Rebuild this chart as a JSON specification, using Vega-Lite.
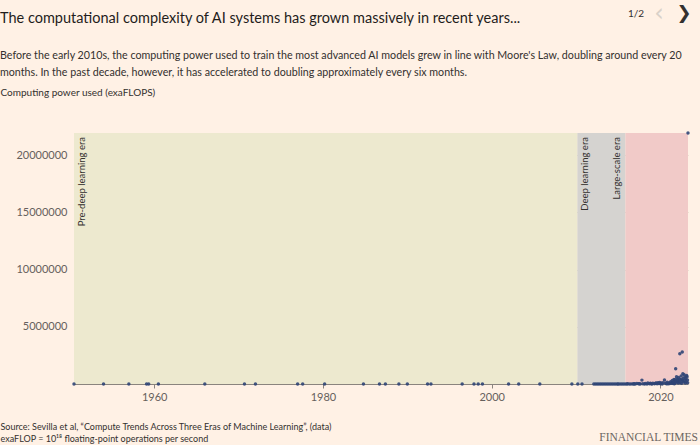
{
  "$schema": "https://vega.github.io/schema/vega-lite/v6.json",
  "autosize": {"type": "none"},
  "width": 614,
  "height": 251,
  "padding": {"left": 74, "top": 133, "right": 12, "bottom": 61},
  "background": "#fff1e5",
  "config": {
    "view": {"stroke": null},
    "font": "Lato",
    "text": {"font": "Lato"}
  },
  "title": {
    "text": "The computational complexity of AI systems has grown massively in recent years...",
    "subtitle": [
      "Before the early 2010s, the computing power used to train the most advanced AI models grew in line with Moore's Law, doubling around every 20",
      "months. In the past decade, however, it has accelerated to doubling approximately every six months."
    ],
    "anchor": "start",
    "frame": "group",
    "dx": -74,
    "dy": 77,
    "offset": 0,
    "font": "Lato",
    "fontSize": 14.5,
    "fontWeight": "normal",
    "color": "#1f1d1c",
    "subtitleFont": "Lato",
    "subtitleFontSize": 10.7,
    "subtitleColor": "#33302e",
    "subtitlePadding": 25,
    "subtitleLineHeight": 17
  },
  "datasets": {
    "eras": [
      {"era": "Pre-deep learning era", "start": 1950.5, "end": 2010.15},
      {"era": "Deep learning era", "start": 2010.15, "end": 2015.85},
      {"era": "Large-scale era", "start": 2015.85, "end": 2023.26}
    ],
    "systems": [
      {"year": 1950.5, "compute": 0}, {"year": 1954.0, "compute": 0}, {"year": 1957.0, "compute": 0},
      {"year": 1959.1, "compute": 0}, {"year": 1959.35, "compute": 0}, {"year": 1960.5, "compute": 0},
      {"year": 1966.0, "compute": 0}, {"year": 1970.7, "compute": 0}, {"year": 1972.0, "compute": 0},
      {"year": 1977.0, "compute": 0}, {"year": 1977.6, "compute": 0}, {"year": 1980.2, "compute": 0},
      {"year": 1984.8, "compute": 0}, {"year": 1986.7, "compute": 0}, {"year": 1987.4, "compute": 0},
      {"year": 1989.0, "compute": 0}, {"year": 1990.0, "compute": 0}, {"year": 1992.4, "compute": 0},
      {"year": 1992.8, "compute": 0}, {"year": 1996.5, "compute": 0}, {"year": 1997.9, "compute": 0},
      {"year": 1998.4, "compute": 0}, {"year": 1998.9, "compute": 0}, {"year": 2002.0, "compute": 0},
      {"year": 2003.2, "compute": 0}, {"year": 2005.7, "compute": 0}, {"year": 2009.5, "compute": 1},
      {"year": 2010.2, "compute": 2}, {"year": 2010.7, "compute": 5},
      {"year": 2012.1, "compute": 50}, {"year": 2012.3, "compute": 20}, {"year": 2012.5, "compute": 100},
      {"year": 2012.7, "compute": 470}, {"year": 2012.9, "compute": 30}, {"year": 2013.1, "compute": 60},
      {"year": 2013.3, "compute": 200}, {"year": 2013.5, "compute": 10}, {"year": 2013.7, "compute": 150},
      {"year": 2013.9, "compute": 40}, {"year": 2014.1, "compute": 300}, {"year": 2014.3, "compute": 80},
      {"year": 2014.5, "compute": 500}, {"year": 2014.7, "compute": 1200}, {"year": 2014.9, "compute": 250},
      {"year": 2015.0, "compute": 700}, {"year": 2015.2, "compute": 90}, {"year": 2015.4, "compute": 2000},
      {"year": 2015.6, "compute": 400}, {"year": 2015.8, "compute": 1500}, {"year": 2016.0, "compute": 3000},
      {"year": 2016.1, "compute": 19000}, {"year": 2016.3, "compute": 800}, {"year": 2016.5, "compute": 5000},
      {"year": 2016.7, "compute": 12000}, {"year": 2016.8, "compute": 2500}, {"year": 2016.9, "compute": 30000},
      {"year": 2017.0, "compute": 7000}, {"year": 2017.2, "compute": 40000}, {"year": 2017.4, "compute": 20000},
      {"year": 2017.5, "compute": 15000}, {"year": 2017.6, "compute": 4000}, {"year": 2017.8, "compute": 340000},
      {"year": 2017.9, "compute": 20000}, {"year": 2018.1, "compute": 9000}, {"year": 2018.2, "compute": 50000},
      {"year": 2018.4, "compute": 3000}, {"year": 2018.5, "compute": 80000}, {"year": 2018.7, "compute": 25000},
      {"year": 2018.8, "compute": 60000}, {"year": 2018.9, "compute": 12000}, {"year": 2019.0, "compute": 6000},
      {"year": 2019.1, "compute": 70000}, {"year": 2019.3, "compute": 30000}, {"year": 2019.4, "compute": 60000},
      {"year": 2019.5, "compute": 90000}, {"year": 2019.6, "compute": 15000}, {"year": 2019.7, "compute": 110000},
      {"year": 2019.8, "compute": 40000}, {"year": 2019.9, "compute": 130000}, {"year": 2020.0, "compute": 20000},
      {"year": 2020.1, "compute": 80000}, {"year": 2020.2, "compute": 5000}, {"year": 2020.3, "compute": 120000},
      {"year": 2020.47, "compute": 350000}, {"year": 2020.6, "compute": 60000}, {"year": 2020.7, "compute": 30000},
      {"year": 2020.8, "compute": 150000}, {"year": 2020.9, "compute": 10000}, {"year": 2021.0, "compute": 90000},
      {"year": 2021.1, "compute": 40000}, {"year": 2021.2, "compute": 200000}, {"year": 2021.3, "compute": 70000},
      {"year": 2021.35, "compute": 130000}, {"year": 2021.4, "compute": 300000}, {"year": 2021.5, "compute": 50000},
      {"year": 2021.55, "compute": 180000}, {"year": 2021.6, "compute": 400000}, {"year": 2021.65, "compute": 20000},
      {"year": 2021.7, "compute": 370000}, {"year": 2021.75, "compute": 100000}, {"year": 2021.8, "compute": 1330000},
      {"year": 2021.85, "compute": 250000}, {"year": 2021.9, "compute": 630000}, {"year": 2021.95, "compute": 420000},
      {"year": 2022.0, "compute": 150000}, {"year": 2022.05, "compute": 360000}, {"year": 2022.1, "compute": 80000},
      {"year": 2022.15, "compute": 580000}, {"year": 2022.2, "compute": 210000}, {"year": 2022.25, "compute": 430000},
      {"year": 2022.29, "compute": 2650000}, {"year": 2022.33, "compute": 120000}, {"year": 2022.4, "compute": 370000},
      {"year": 2022.45, "compute": 700000}, {"year": 2022.5, "compute": 60000}, {"year": 2022.55, "compute": 380000},
      {"year": 2022.58, "compute": 2800000}, {"year": 2022.6, "compute": 250000}, {"year": 2022.65, "compute": 900000},
      {"year": 2022.7, "compute": 500000}, {"year": 2022.75, "compute": 180000}, {"year": 2022.8, "compute": 800000},
      {"year": 2022.85, "compute": 320000}, {"year": 2022.9, "compute": 600000}, {"year": 2022.95, "compute": 90000},
      {"year": 2023.0, "compute": 450000}, {"year": 2023.05, "compute": 200000}, {"year": 2023.1, "compute": 750000},
      {"year": 2023.15, "compute": 630000}, {"year": 2023.2, "compute": 350000}, {"year": 2023.22, "compute": 100000},
      {"year": 2023.26, "compute": 21950000}
    ]
  },
  "layer": [
    {
      "data": {"name": "eras"},
      "mark": {"type": "rect"},
      "encoding": {
        "x": {"field": "start", "type": "quantitative"},
        "x2": {"field": "end"},
        "color": {
          "field": "era", "type": "nominal", "legend": null,
          "scale": {"domain": ["Pre-deep learning era", "Deep learning era", "Large-scale era"], "range": ["#ede9cf", "#d5d3d0", "#f1cac8"]}
        }
      }
    },
    {
      "data": {"name": "systems"},
      "mark": {"type": "circle", "size": 12, "color": "#2f4576", "opacity": 0.9},
      "encoding": {
        "x": {
          "field": "year", "type": "quantitative",
          "scale": {"domain": [1950.5, 2023.26], "nice": false, "zero": false},
          "axis": {
            "values": [1960, 1980, 2000, 2020], "format": "d", "grid": false,
            "domainColor": "#8a847e", "tickColor": "#8a847e", "tickSize": 4,
            "labelColor": "#66605c", "labelFontSize": 11, "labelFont": "Lato", "labelPadding": 3,
            "title": ["Source: Sevilla et al, “Compute Trends Across Three Eras of Machine Learning”, (data)", "exaFLOP = 10¹⁸ floating-point operations per second"],
            "titleX": -74, "titleY": 38, "titleAlign": "left", "titleBaseline": "top",
            "titleFont": "Lato", "titleFontSize": 9, "titleFontWeight": "normal", "titleColor": "#33302e", "titleLineHeight": 12
          }
        },
        "y": {
          "field": "compute", "type": "quantitative",
          "scale": {"domain": [0, 21950000], "nice": false},
          "axis": {
            "values": [5000000, 10000000, 15000000, 20000000], "format": "d",
            "domain": false, "ticks": false, "labelPadding": 7,
            "gridColor": "#8a7f6a", "gridOpacity": 0.3,
            "labelColor": "#66605c", "labelFontSize": 11, "labelFont": "Lato",
            "title": "Computing power used (exaFLOPS)", "titleAngle": 0, "titleX": -74, "titleY": -41,
            "titleAlign": "left", "titleBaseline": "middle", "titleFont": "Lato",
            "titleFontSize": 10, "titleFontWeight": "normal", "titleColor": "#33302e"
          }
        }
      }
    },
    {
      "data": {"values": [{"era": "Pre-deep learning era", "start": 1950.5}, {"era": "Deep learning era", "start": 2010.15}]},
      "mark": {"type": "text", "angle": 270, "align": "right", "baseline": "top", "dx": -4, "dy": 3, "fontSize": 9.5, "color": "#33302e"},
      "encoding": {
        "x": {"field": "start", "type": "quantitative"},
        "y": {"datum": 21950000},
        "text": {"field": "era"}
      }
    },
    {
      "data": {"values": [{"era": "Large-scale era", "start": 2015.85}]},
      "mark": {"type": "text", "angle": 270, "align": "right", "baseline": "bottom", "dx": -4, "dy": -3, "fontSize": 9.5, "color": "#33302e"},
      "encoding": {
        "x": {"field": "start", "type": "quantitative"},
        "y": {"datum": 21950000},
        "text": {"field": "era"}
      }
    },
    {
      "data": {"values": [{"brand": "FINANCIAL TIMES"}]},
      "mark": {"type": "text", "align": "right", "baseline": "middle", "dx": 10, "dy": 54, "font": "Liberation Serif", "fontSize": 11.5, "color": "#6b6661"},
      "encoding": {
        "x": {"datum": 2023.26},
        "y": {"datum": 0},
        "text": {"field": "brand"}
      }
    },
    {
      "data": {"values": [{"page": "1/2"}]},
      "mark": {"type": "text", "align": "center", "baseline": "middle", "dx": -52, "dy": -119, "fontSize": 10, "color": "#33302e"},
      "encoding": {
        "x": {"datum": 2023.26},
        "y": {"datum": 21950000},
        "text": {"field": "page"}
      }
    },
    {
      "data": {"values": [{"arrow": "‹"}]},
      "mark": {"type": "text", "align": "center", "baseline": "middle", "dx": -29, "dy": -119, "fontSize": 24, "color": "#d9d1c9", "font": "DejaVu Sans"},
      "encoding": {
        "x": {"datum": 2023.26},
        "y": {"datum": 21950000},
        "text": {"field": "arrow"}
      }
    },
    {
      "data": {"values": [{"arrow": "❯"}]},
      "mark": {"type": "text", "align": "center", "baseline": "middle", "dx": -4, "dy": -119, "fontSize": 18, "color": "#33302e", "font": "DejaVu Sans"},
      "encoding": {
        "x": {"datum": 2023.26},
        "y": {"datum": 21950000},
        "text": {"field": "arrow"}
      }
    }
  ]
}
